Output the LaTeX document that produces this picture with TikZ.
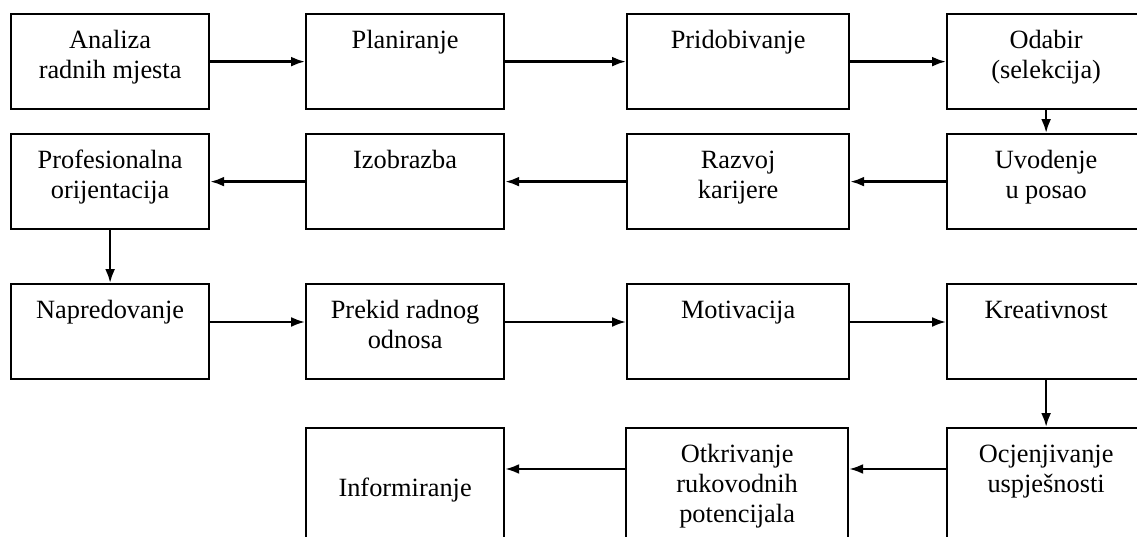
\documentclass[tikz,border=0pt]{standalone}
\usepackage{fontspec}
\setmainfont{Liberation Serif}
\usetikzlibrary{arrows.meta,positioning}

\begin{document}
\begin{tikzpicture}[x=0.02cm,y=-0.02cm,
  box/.style={draw,shape=rectangle,line width=1.3pt,inner sep=0pt,anchor=north west,
    minimum width=3.96cm,align=center,text height=0.68cm,text depth=1.22cm,
    font=\fontsize{15pt}{17pt}\selectfont},
  wide/.style={box,minimum width=4.44cm},
  twolines/.style={text height=1.28cm,text depth=0.62cm},
  arr/.style={line width=1.3pt,-{Latex[length=0.28cm,width=0.2cm]}}]
  \useasboundingbox (0,0) rectangle (1137,537);
  \clip (0,0) rectangle (1137,537);
  % first row
  \node[box,twolines] (analiza) at (10,13) {Analiza\\radnih mjesta};
  \node[box] (plan) at (305,13) {Planiranje};
  \node[wide] (pridob) at (626,13) {Pridobivanje};
  \node[box,twolines] (odabir) at (946,13) {Odabir\\(selekcija)};
  % second row
  \node[box,twolines] (prof) at (10,133) {Profesionalna\\orijentacija};
  \node[box] (izobr) at (305,133) {Izobrazba};
  \node[wide,twolines] (razvoj) at (626,133) {Razvoj\\karijere};
  \node[box,twolines] (uvod) at (946,133) {Uvodenje\\u posao};
  % third row
  \node[box] (napred) at (10,283) {Napredovanje};
  \node[box,twolines] (prekid) at (305,283) {Prekid radnog\\odnosa};
  \node[wide] (motiv) at (626,283) {Motivacija};
  \node[box] (kreat) at (946,283) {Kreativnost};
  % fourth row (cut off at the bottom)
  \node[box,text height=1.36cm,text depth=1.64cm] (inform) at (305,427) {Informiranje};
  \node[wide,text height=1.88cm,text depth=1.12cm] (otkriv) at (625,427) {Otkrivanje\\rukovodnih\\potencijala};
  \node[box,text height=1.28cm,text depth=1.72cm] (ocjen) at (946,427) {Ocjenjivanje\\uspješnosti};

  \draw[arr] (analiza.east) -- (plan.west);
  \draw[arr] (plan.east) -- (pridob.west);
  \draw[arr] (pridob.east) -- (odabir.west);
  \draw[arr] (odabir.south) -- (uvod.north);
  \draw[arr] (uvod.west) -- (razvoj.east);
  \draw[arr] (razvoj.west) -- (izobr.east);
  \draw[arr] (izobr.west) -- (prof.east);
  \draw[arr] (prof.south) -- (napred.north);
  \draw[arr] ([yshift=-0.78cm]napred.north east) -- ([yshift=-0.78cm]prekid.north west);
  \draw[arr] ([yshift=-0.78cm]prekid.north east) -- ([yshift=-0.78cm]motiv.north west);
  \draw[arr] ([yshift=-0.78cm]motiv.north east) -- ([yshift=-0.78cm]kreat.north west);
  \draw[arr] (kreat.south) -- (ocjen.north);
  \draw[arr] ([yshift=-0.84cm]ocjen.north west) -- ([yshift=-0.84cm]otkriv.north east);
  \draw[arr] ([yshift=-0.84cm]otkriv.north west) -- ([yshift=-0.84cm]inform.north east);
\end{tikzpicture}
\end{document}
